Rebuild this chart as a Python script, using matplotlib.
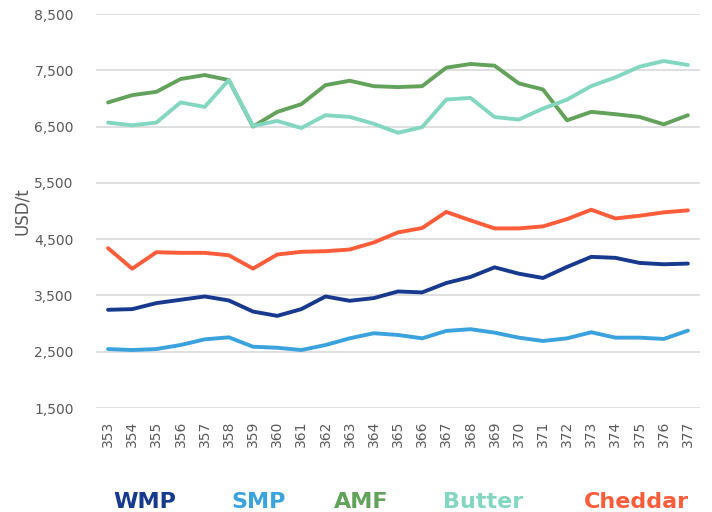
import matplotlib
matplotlib.use("Agg")
import matplotlib.pyplot as plt
from matplotlib.ticker import FuncFormatter

weeks = list(range(353, 378))
wmp = [3245, 3257, 3364, 3423, 3482, 3411, 3214, 3137, 3257, 3482, 3405,
       3453, 3571, 3554, 3721, 3828, 4000, 3887, 3810, 4007, 4186, 4168,
       4078, 4054, 4066]
smp = [2548, 2530, 2548, 2619, 2720, 2756, 2589, 2571, 2530, 2619, 2738,
       2829, 2798, 2738, 2870, 2900, 2839, 2750, 2691, 2738, 2846, 2750,
       2750, 2727, 2875]
amf = [6929, 7059, 7118, 7345, 7416, 7327, 6500, 6761, 6898, 7237, 7315,
       7218, 7202, 7218, 7547, 7612, 7582, 7268, 7160, 6612, 6762, 6720,
       6672, 6540, 6702]
butter = [6571, 6523, 6571, 6929, 6850, 7327, 6511, 6600, 6475, 6702, 6672,
          6550, 6390, 6490, 6980, 7010, 6670, 6625, 6820, 6980, 7220, 7375,
          7565, 7665, 7595]
cheddar = [4340, 3975, 4268, 4257, 4257, 4214, 3977, 4227, 4275, 4286, 4316,
           4441, 4620, 4698, 4984, 4834, 4691, 4691, 4727, 4857, 5023, 4868,
           4916, 4976, 5012]
yticks = [1500, 2500, 3500, 4500, 5500, 6500, 7500, 8500]

series = [("WMP", wmp, "#173a8e"), ("SMP", smp, "#3aa2dd"),
          ("AMF", amf, "#63a25a"), ("Butter", butter, "#83d7c1"),
          ("Cheddar", cheddar, "#ff5c3a")]

fig = plt.figure(figsize=(7.12, 5.12), dpi=100)
ax = fig.add_axes([0.1348, 0.2031, 0.8483, 0.7695])

for name, vals, col in series:
    ax.plot(weeks, vals, color=col, lw=2.8, solid_capstyle="round",
            solid_joinstyle="round", zorder=3)

ax.set_xlim(352.5, 377.5)
ax.set_ylim(1500, 8500)
ax.set_yticks(yticks)
ax.yaxis.set_major_formatter(FuncFormatter(lambda v, p: f"{int(v):,}"))
ax.set_xticks(weeks)
ax.set_xticklabels([str(w) for w in weeks], rotation=90)
ax.grid(axis="y", color="#d9d9d9", lw=1.2, zorder=0)
for s in ax.spines.values():
    s.set_visible(False)
ax.tick_params(axis="both", length=0, colors="#595959", labelsize=10)
ax.tick_params(axis="y", pad=16)
ax.tick_params(axis="x", pad=9)
ax.set_ylabel("USD/t", color="#595959", fontsize=12, labelpad=2)

xpos = [145, 259, 361, 483, 636]
for (name, vals, col), x in zip(series, xpos):
    fig.text(x / 712, 0.0186, name, color=col, fontsize=16, fontweight="bold",
             ha="center", va="center")

fig.savefig("out.png", dpi=100)
